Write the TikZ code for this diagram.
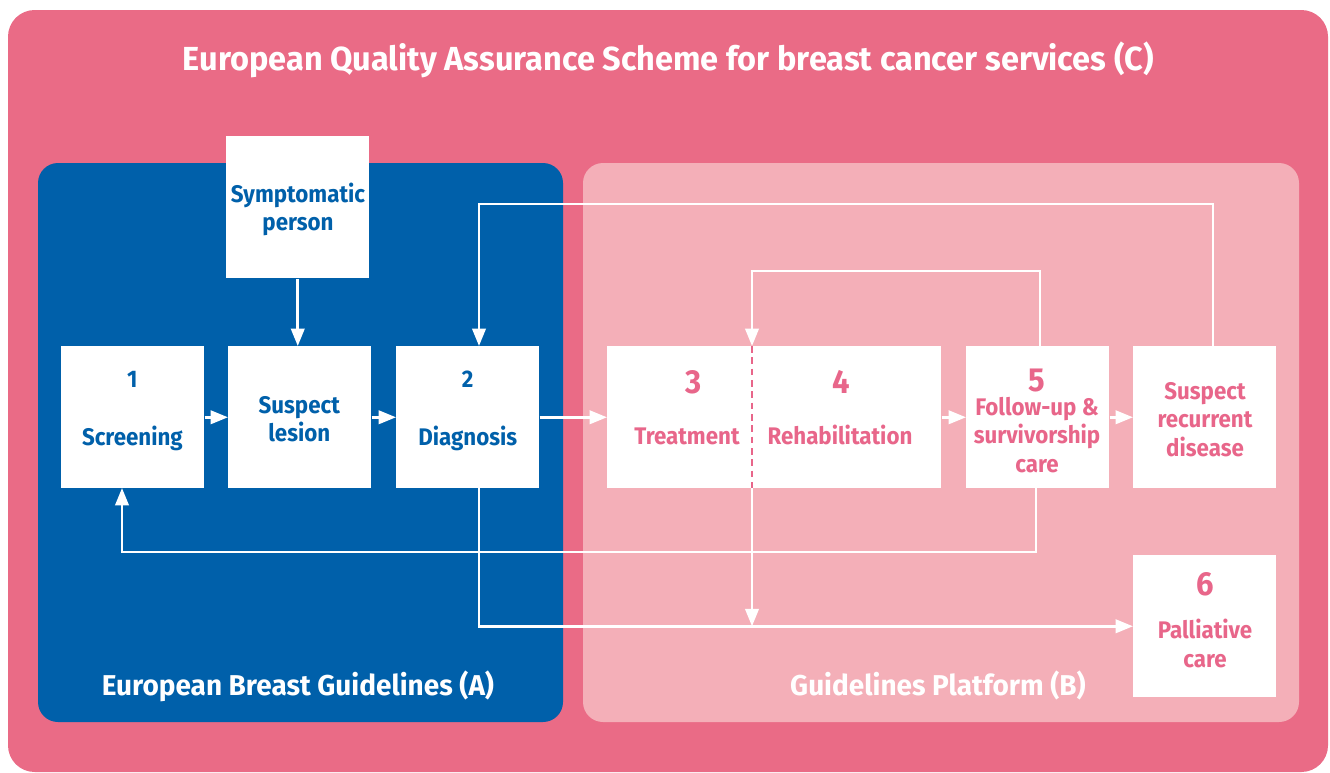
\documentclass[tikz,border=0pt]{standalone}
\usepackage{fontspec}
\setmainfont{Fira Sans}
\newfontfamily\boxfont{Fira Sans}[FakeStretch=0.93]
\newfontfamily\headfont{Fira Sans}[FakeStretch=0.975]
\usetikzlibrary{arrows.meta,calc}
\definecolor{outerpink}{HTML}{EA6B86}
\definecolor{lightpink}{HTML}{F4AFB8}
\definecolor{euroblue}{HTML}{0060AA}
\definecolor{textpink}{HTML}{E8668A}
\tikzset{
  box/.style={fill=white, draw=none, minimum width=107.25pt, minimum height=106.5pt, inner sep=0pt, anchor=north west},
  btxt/.style={text=euroblue, font=\boxfont\fontsize{18}{21}\selectfont\bfseries, inner sep=0pt, anchor=base},
  ptxt/.style={text=textpink, font=\boxfont\fontsize{18}{21}\selectfont\bfseries, inner sep=0pt, anchor=base},
  bignum/.style={text=textpink, font=\boxfont\fontsize{25}{30}\selectfont\bfseries, inner sep=0pt, anchor=base},
  paneltxt/.style={text=white, font=\headfont\fontsize{21.5}{26}\selectfont\bfseries, inner sep=0pt, anchor=base},
  titletxt/.style={text=white, font=\headfont\fontsize{25}{30}\selectfont\bfseries, inner sep=0pt, anchor=base},
  flow/.style={draw=white, line width=2pt, -{Triangle[length=13pt,width=10pt]}},
  split/.style={draw=textpink, line width=2pt, dash pattern=on 5pt off 3.5pt}
}
\begin{document}
\begin{tikzpicture}[x=0.75pt,y=-0.75pt]
\useasboundingbox (0,0) rectangle (1330,772);
\fill[white] (0,0) rectangle (1330,772);
% panels
\fill[outerpink, rounded corners=20pt] (8,10) rectangle (1328,772);
\fill[euroblue, rounded corners=15pt] (38,163) rectangle (563,722);
\fill[lightpink, rounded corners=15pt] (583,163) rectangle (1299,722);
\node[titletxt] (title) at (668.5,70) {European Quality Assurance Scheme for breast cancer services (C)};
\node[paneltxt] (labA) at (298,695) {European Breast Guidelines (A)};
\node[paneltxt] (labB) at (938,695) {Guidelines Platform (B)};
% boxes
\node[box] (sym) at (226,136) {};
\node[box] (scr) at (61,346) {};
\node[box] (les) at (228,346) {};
\node[box] (diag) at (396,346) {};
\node[box, minimum width=250.5pt] (tr) at (607,346) {};
\node[box] (fu) at (966,346) {};
\node[box] (rec) at (1133,346) {};
\node[box] (pal) at (1133,555) {};
% texts
\node[btxt] (symA) at (298,202.7) {Symptomatic};
\node[btxt] (symB) at (298,230.7) {person};
\node[btxt] (scrN) at (132.4,387) {1};
\node[btxt] (scrT) at (132.4,445) {Screening};
\node[btxt] (lesA) at (299.3,413) {Suspect};
\node[btxt] (lesB) at (299.3,441) {lesion};
\node[btxt] (diagN) at (467.7,387) {2};
\node[btxt] (diagT) at (467.7,445) {Diagnosis};
\node[bignum] (trN) at (694,393) {3};
\node[ptxt] (trT) at (687,444) {Treatment};
\node[bignum] (rhN) at (841,393) {4};
\node[ptxt] (rhT) at (840,444) {Rehabilitation};
\node[bignum] (fuN) at (1037,391) {5};
\node[ptxt] (fuA) at (1037,415) {Follow-up \&};
\node[ptxt] (fuB) at (1037,443.3) {survivorship};
\node[ptxt] (fuC) at (1037,472.7) {care};
\node[ptxt] (recA) at (1205,399.3) {Suspect};
\node[ptxt] (recB) at (1205,427.3) {recurrent};
\node[ptxt] (recC) at (1205,456) {disease};
\node[bignum] (palN) at (1205,595) {6};
\node[ptxt] (palA) at (1205,638.3) {Palliative};
\node[ptxt] (palB) at (1205,667.7) {care};
% connector end points
\coordinate (diagTop) at (479,346);
\coordinate (diagBot) at (479,488);
\coordinate (recTop) at (1213,346);
\coordinate (fuTop) at (1040,346);
\coordinate (fuBot) at (1036,488);
\coordinate (scrBot) at (122,488);
\coordinate (trTop) at (752,346);
\coordinate (trBot) at (752,488);
% split line
\draw[split] (trTop) -- (trBot);
% connectors
\draw[flow] (sym.south) -- (sym.south |- les.north);
\draw[flow] (scr.east) -- (les.west);
\draw[flow] (les.east) -- (diag.west);
\draw[flow] (diag.east) -- (tr.west);
\draw[flow] (tr.east) -- (fu.west);
\draw[flow] (fu.east) -- (rec.west);
\draw[flow] (recTop) |- ($(diagTop)+(0,-142)$) -- (diagTop);
\draw[flow] (fuTop) |- ($(trTop)+(0,-75)$) -- (trTop);
\draw[flow] (fuBot) |- ($(scrBot)+(0,64)$) -- (scrBot);
\draw[flow] (diagBot) |- (pal.west);
\draw[flow] (trBot) -- (trBot |- pal.west);
\end{tikzpicture}
\end{document}
